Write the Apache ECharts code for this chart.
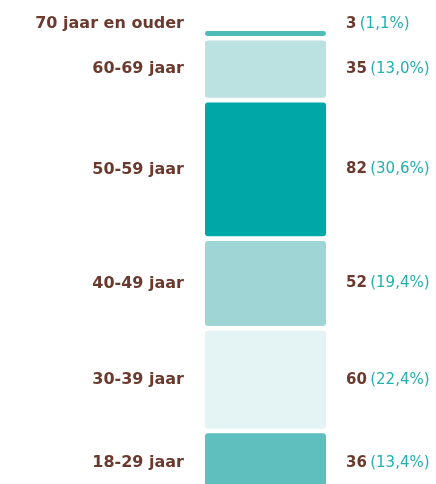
<!DOCTYPE html>
<html>
<head>
<meta charset="utf-8">
<script src="https://cdn.jsdelivr.net/npm/echarts@6/dist/echarts.min.js"></script>
<style>html,body{margin:0;padding:0;background:#fff;}#c{width:436px;height:484px;}</style>
</head>
<body>
<div id="c"></div>
<script>
const categories = ['70 jaar en ouder', '60-69 jaar', '50-59 jaar', '40-49 jaar', '30-39 jaar', '18-29 jaar'];
const values = [3, 35, 82, 52, 60, 36];
const percentLabels = ['1,1%', '13,0%', '30,6%', '19,4%', '22,4%', '13,4%'];
const colors = ['#4cbdba', '#bbe1e0', '#00a7a7', '#a0d5d6', '#e4f3f3', '#5fbfbf'];

const GAP = 4.7;
const BROWN = '#6b3a2f';
const TEAL = '#22b0b0';
const FONT = '"DejaVu Sans", sans-serif';

const total = values.reduce((a, b) => a + b, 0);
let acc = 0;
const segData = values.map((v, i) => {
  const item = [0, acc, acc + v, i];
  acc += v;
  return item;
});

const chart = echarts.init(document.getElementById('c'), null, { renderer: 'canvas' });
chart.setOption({
  animation: false,
  grid: { left: 205, top: 31, width: 121, height: total * 1.633 },
  xAxis: { type: 'category', data: ['x'], show: false },
  yAxis: { type: 'value', min: 0, max: total, inverse: true, show: false },
  series: [{
    type: 'custom',
    clip: false,
    data: segData,
    encode: { x: 0, y: [1, 2] },
    renderItem: function (params, api) {
      const i = api.value(3);
      const p0 = api.coord([0, api.value(1)]);
      const p1 = api.coord([0, api.value(2)]);
      const bw = api.size([1, 0])[0];
      const x = p0[0] - bw / 2;
      const y0 = p0[1] + i * GAP;
      const y1 = p1[1] + i * GAP;
      const h = y1 - y0;
      let ly = (y0 + y1) / 2;
      if (h < 16) ly = y0 - 7;
      return {
        type: 'group',
        children: [
          {
            type: 'rect',
            shape: { x: x, y: y0, width: bw, height: h, r: 3 },
            style: { fill: colors[i] }
          },
          {
            type: 'text',
            style: {
              text: categories[i],
              x: x - 21, y: ly,
              align: 'right', verticalAlign: 'middle',
              font: 'bold 16px ' + FONT,
              fill: BROWN
            }
          },
          {
            type: 'text',
            style: {
              text: '{a|' + values[i] + '} {b|(' + percentLabels[i] + ')}',
              x: x + bw + 20, y: ly,
              align: 'left', verticalAlign: 'middle',
              rich: {
                a: { fontFamily: FONT, fontWeight: 'bold', fontSize: 15, fill: BROWN },
                b: { fontFamily: FONT, fontWeight: 'normal', fontSize: 15, fill: TEAL }
              }
            }
          }
        ]
      };
    }
  }]
});
</script>
</body>
</html>
